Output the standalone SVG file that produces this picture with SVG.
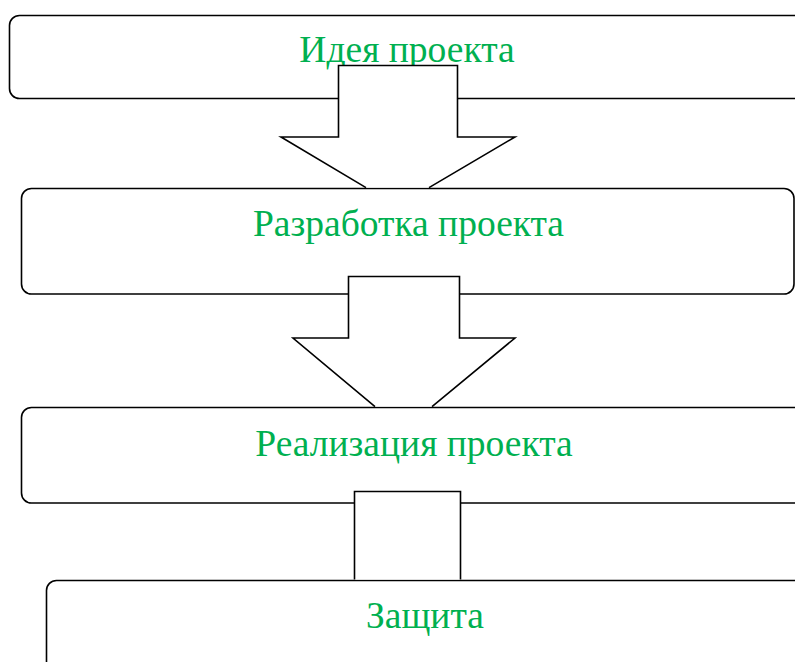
<svg xmlns="http://www.w3.org/2000/svg" width="795" height="662" viewBox="0 0 795 662">
  <style>
    .box { fill: #ffffff; stroke: #000000; stroke-width: 1.6; }
    .lbl { font-family: "Liberation Serif", "Times New Roman", serif; font-size: 37.5px; fill: #00B050; text-anchor: middle; }
    .arr { fill: #ffffff; stroke: #000000; stroke-width: 1.6; stroke-linejoin: miter; }
  </style>
  <rect x="0" y="0" width="795" height="662" fill="#ffffff"/>
  <g id="node-idea">
    <rect class="box" x="9.5" y="15.5" width="830" height="83" rx="10" ry="10"/>
    <text class="lbl" x="407" y="62">Идея проекта</text>
  </g>
  <g id="node-development">
    <rect class="box" x="21.5" y="188.5" width="772.5" height="105.5" rx="10" ry="10"/>
    <text class="lbl" x="408.5" y="236">Разработка проекта</text>
  </g>
  <g id="node-realization">
    <rect class="box" x="21.5" y="407.5" width="830" height="95.5" rx="10" ry="10"/>
    <text class="lbl" x="414" y="456">Реализация проекта</text>
  </g>
  <g id="node-defense">
    <rect class="box" x="46.5" y="580.5" width="830" height="120" rx="10" ry="10"/>
    <text class="lbl" x="425" y="628">Защита</text>
  </g>
  <g id="connectors">
    <path class="arr" d="M366,187.6 L281,137 L338.5,137 L338.5,65.5 L457.5,65.5 L457.5,137 L515,137 L429,187.6"/>
    <path class="arr" d="M375,406.6 L293,338 L348.5,338 L348.5,276.5 L459.5,276.5 L459.5,338 L515,338 L432,406.6"/>
    <path class="arr" d="M354.5,579.6 L354.5,491.5 L460.5,491.5 L460.5,579.6"/>
  </g>
</svg>
